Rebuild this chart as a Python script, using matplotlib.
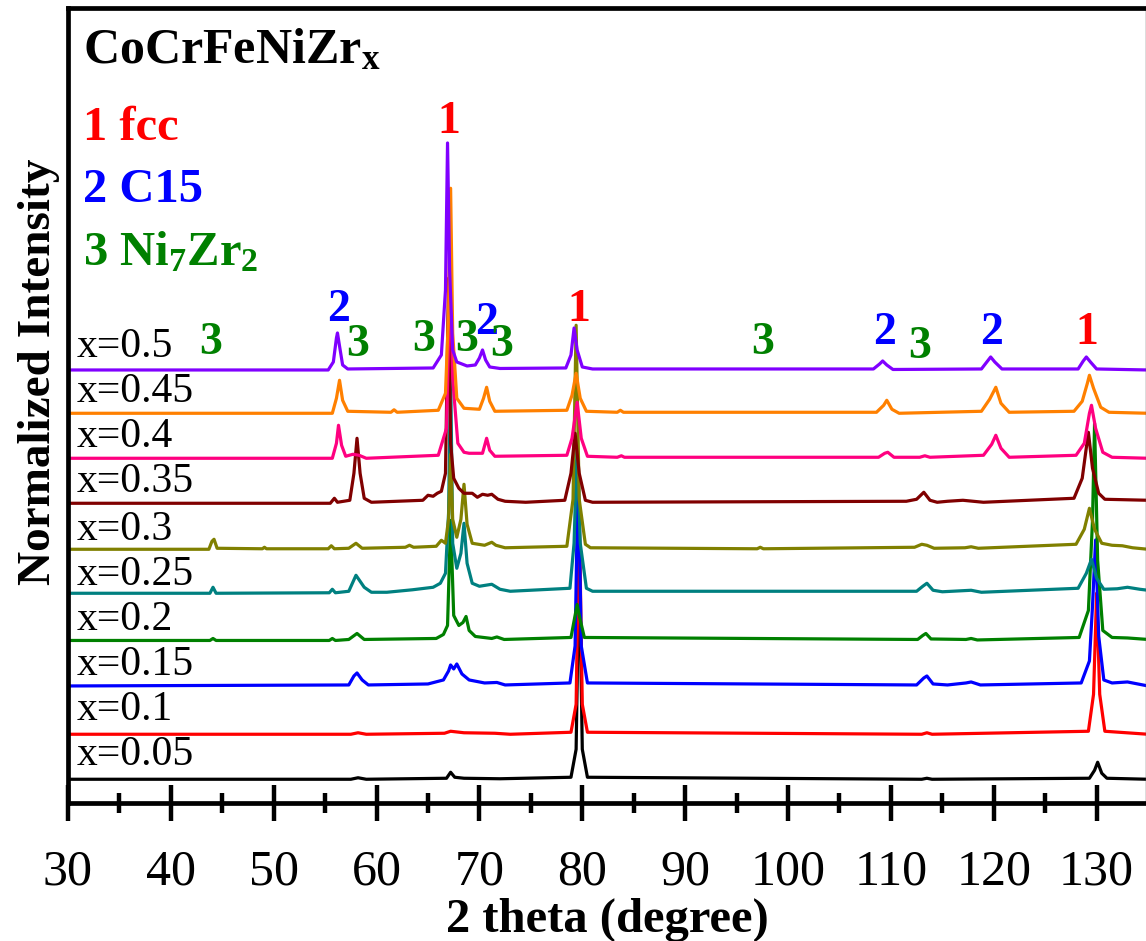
import numpy as np
import matplotlib
matplotlib.use("Agg")
import matplotlib.pyplot as plt
from matplotlib.ticker import MultipleLocator

# ---------- Data (2theta, intensity above baseline) ----------
samples = ["x=0.05", "x=0.1", "x=0.15", "x=0.2", "x=0.25",
           "x=0.3", "x=0.35", "x=0.4", "x=0.45", "x=0.5"]
colors = ["#000000", "#FF0000", "#0000FF", "#008000", "#008080",
          "#808000", "#800000", "#FF0080", "#FF8000", "#8000FF"]
offsets = [2.37, 6.87, 11.70, 16.25, 20.97, 25.37, 29.97, 34.47, 38.97, 43.30]

pat_005 = [(30, 0), (57.5, 0), (58.2, 0.15), (59, 0), (66.8, 0.1), (67.2, 0.7), (67.6, 0.2),
           (68.5, 0.1), (72, 0.05), (78.9, 0.2), (79.4, 3), (79.7, 22.5), (80.0, 3), (80.5, 0.2),
           (113, 0), (113.5, 0.1), (114, 0), (129.3, 0.1), (129.8, 0.9), (130.1, 1.7),
           (130.5, 0.6), (131, 0.1), (135, 0)]
pat_010 = [(30, 0), (57.5, 0), (58.2, 0.15), (59, 0), (66.6, 0.1), (67.2, 0.3), (68.5, 0.15),
           (71.5, 0.1), (73, 0), (78.9, 0.2), (79.4, 3), (79.7, 22.5), (80.0, 3), (80.5, 0.2),
           (113, 0), (113.5, 0.15), (114, 0), (129.2, 0.3), (129.7, 4), (130.0, 14.1),
           (130.3, 4), (130.8, 0.3), (135, 0)]
pat_015 = [(30, 0), (57.3, 0.1), (57.8, 1.0), (58.1, 1.3), (58.6, 0.6), (59.2, 0.1), (65, 0.2),
           (66.5, 0.6), (67.0, 1.5), (67.2, 2.1), (67.5, 1.7), (67.8, 2.2), (68.3, 1.2), (69, 0.6),
           (70.5, 0.3), (71.7, 0.35), (72.5, 0.1), (78.8, 0.3), (79.3, 4), (79.6, 22.5),
           (79.9, 4), (80.5, 0.3), (112.5, 0.1), (113.2, 0.8), (113.5, 1.0), (114.1, 0.2),
           (115.5, 0.1), (117.3, 0.3), (117.8, 0.4), (118.7, 0.1), (128.5, 0.3), (129.3, 2.5),
           (129.6, 8), (129.9, 14.6), (130.2, 5), (130.7, 0.6), (131.5, 0.3), (133, 0.4),
           (134, 0.2), (135, 0)]
pat_020 = [(30, 0), (43.8, 0), (44.1, 0.2), (44.4, 0), (55.4, 0), (55.7, 0.2), (56.0, 0),
           (57.3, 0.1), (58.1, 0.7), (58.8, 0.1), (65.8, 0.2), (66.5, 0.6), (66.9, 1.5),
           (67.2, 12), (67.5, 2.5), (68.0, 1.5), (68.4, 1.8), (68.7, 2.4), (69.0, 1.0),
           (69.6, 0.4), (71.2, 0.2), (71.7, 0.35), (72.4, 0.1), (78.9, 0.3), (79.3, 2.5),
           (79.5, 3.6), (79.7, 2.5), (80.2, 0.3), (112.6, 0.1), (113.1, 0.5), (113.4, 0.7),
           (113.9, 0.15), (117.3, 0.1), (117.8, 0.2), (118.4, 0.05), (128.3, 0.3), (129.2, 3),
           (129.6, 12), (129.8, 21.7), (130.1, 8), (130.6, 1.0), (131.5, 0.3), (133, 0.25),
           (135, 0.1)]
pat_025 = [(30, 0), (43.8, 0), (44.1, 0.6), (44.4, 0), (55.4, 0.05), (55.7, 0.4), (56.0, 0.05),
           (57.3, 0.2), (58.0, 1.8), (58.8, 0.6), (59.5, 0.1), (61, 0.1), (63.5, 0.35),
           (65.5, 0.6), (66.2, 1.0), (66.7, 2.0), (67.0, 8), (67.2, 22.5), (67.4, 5),
           (67.8, 2.5), (68.2, 4), (68.5, 7), (68.8, 3), (69.3, 1.0), (70, 0.7), (71.2, 0.9),
           (72, 0.4), (73, 0.2), (78.8, 0.5), (79.2, 5), (79.5, 15), (79.8, 5), (80.4, 0.5),
           (81, 0.2), (112.5, 0.2), (113.1, 0.7), (113.5, 1.0), (114.1, 0.3), (115, 0.15),
           (117.8, 0.3), (118.8, 0.1), (128.2, 0.5), (129.0, 2), (129.5, 3.4), (130.0, 1.5),
           (130.7, 0.4), (132, 0.45), (133, 0.6), (134.2, 0.4), (135, 0.3)]
pat_030 = [(30, 0), (43.7, 0), (44.0, 0.8), (44.2, 1.0), (44.5, 0.1), (48.9, 0.05),
           (49.1, 0.2), (49.3, 0.05), (55.3, 0.05), (55.6, 0.35), (55.9, 0.05), (57.3, 0.1),
           (58.0, 0.6), (58.6, 0.1), (62.8, 0.2), (63.2, 0.4), (63.6, 0.2), (65.8, 0.3),
           (66.3, 0.9), (66.7, 0.6), (67.0, 3), (67.2, 9.5), (67.4, 3), (67.8, 1.2), (68.2, 3),
           (68.5, 6.5), (68.8, 2.5), (69.3, 0.6), (70.5, 0.4), (71.2, 0.7), (71.6, 0.4),
           (72.5, 0.15), (78.5, 0.3), (79.1, 5), (79.4, 22.4), (79.7, 5), (80.3, 0.5),
           (80.8, 0.15), (97.0, 0.05), (97.3, 0.2), (97.6, 0.05), (112.3, 0.2), (113.0, 0.5),
           (113.5, 0.4), (114.2, 0.1), (117.2, 0.15), (117.8, 0.25), (118.5, 0.1), (128.0, 0.5),
           (128.8, 2), (129.3, 4.1), (129.8, 2), (130.5, 0.6), (131.5, 0.4), (132.5, 0.35),
           (133.5, 0.15), (135, 0)]
pat_035 = [(30, 0), (55.5, 0), (55.9, 0.5), (56.2, 0.1), (57.4, 0.3), (57.8, 3.0), (58.1, 6.5),
           (58.4, 3.0), (58.8, 0.5), (59.5, 0.1), (64.5, 0.3), (65.0, 0.8), (65.5, 0.7),
           (65.9, 1.0), (66.3, 1.2), (66.7, 3), (67.0, 22.5), (67.2, 6), (67.5, 2.5), (68, 1.5),
           (68.5, 1.0), (69.3, 1.0), (69.8, 0.6), (70.3, 0.9), (70.8, 0.8), (71.2, 0.9),
           (71.8, 0.4), (72.5, 0.2), (74.5, 0.1), (78.3, 0.3), (78.9, 3), (79.3, 7), (79.7, 3),
           (80.3, 0.3), (81, 0.1), (111.5, 0.2), (112.5, 0.4), (113.2, 1.1), (113.8, 0.3),
           (114.5, 0.1), (115.5, 0.2), (117, 0.3), (118, 0.2), (119.0, 0.1), (127.8, 0.5),
           (128.6, 2.5), (129.2, 7.1), (129.6, 3.5), (130.2, 1.0), (130.8, 0.4), (135, 0.3)]
pat_040 = [(30, 0), (55.7, 0), (56.1, 1.5), (56.3, 3.3), (56.6, 1.3), (57.0, 0.2), (57.7, 0.4),
           (58.3, 0.3), (59, 0), (66, 0.3), (66.8, 3), (67.0, 12), (67.1, 22.5), (67.4, 8),
           (67.9, 1.5), (68.5, 0.6), (69.0, 0.5), (70.3, 0.5), (70.7, 2.0), (71.0, 0.8),
           (71.5, 0.2), (78.5, 0.3), (79.0, 2.0), (79.5, 5.6), (79.9, 2.0), (80.5, 0.2),
           (83.4, 0.1), (83.8, 0.25), (84.1, 0.1), (108.8, 0.1), (109.4, 0.5), (109.7, 0.6),
           (110.3, 0.1), (112.8, 0.1), (113.3, 0.25), (113.8, 0.1), (119.0, 0.3), (119.8, 1.4),
           (120.2, 2.3), (120.7, 1.0), (121.5, 0.1), (128.0, 0.3), (128.8, 1.5), (129.3, 4.5),
           (129.5, 5.3), (129.9, 3.0), (130.6, 0.6), (131.5, 0.1), (135, 0)]
pat_045 = [(30, 0), (55.7, 0), (56.1, 1.5), (56.4, 3.3), (56.7, 1.3), (57.2, 0.2), (61.4, 0.1),
           (61.7, 0.35), (62.0, 0.1), (66, 0.3), (66.7, 2), (67.0, 10), (67.2, 22.5), (67.4, 8),
           (67.8, 1.5), (68.5, 0.5), (70.0, 0.4), (70.4, 1.5), (70.7, 2.6), (71.0, 1.2),
           (71.5, 0.2), (78.5, 0.3), (79.0, 1.8), (79.4, 4.0), (79.8, 1.5), (80.4, 0.2),
           (83.4, 0.1), (83.7, 0.3), (84.0, 0.1), (108.6, 0.1), (109.3, 0.8), (109.6, 1.3),
           (110.1, 0.4), (110.8, 0.0), (118.8, 0.2), (119.6, 1.4), (120.2, 2.6), (120.7, 1.0),
           (121.5, 0.1), (127.8, 0.2), (128.6, 1.2), (129.1, 3.0), (129.3, 3.8), (129.7, 2.5),
           (130.4, 0.6), (131.2, 0.1), (135, 0)]
pat_050 = [(30, 0), (55.3, 0), (55.8, 0.8), (56.1, 3.2), (56.2, 3.7), (56.4, 2.4), (56.7, 0.5),
           (57.2, 0.1), (65.5, 0.2), (66.3, 1.5), (66.7, 8), (66.9, 22.7), (67.1, 10), (67.4, 2),
           (67.8, 0.8), (68.3, 0.6), (68.8, 0.4), (69.6, 0.5), (70.0, 1.2), (70.3, 2.0),
           (70.6, 1.0), (71.0, 0.3), (72, 0.15), (78.4, 0.2), (78.9, 1.5), (79.2, 4.2),
           (79.5, 2.0), (80.0, 0.3), (81, 0.1), (108.3, 0.1), (108.9, 0.6), (109.2, 0.9),
           (109.6, 0.5), (110.2, 0.05), (118.8, 0.1), (119.4, 0.9), (119.7, 1.3), (120.1, 0.8),
           (120.8, 0.1), (128.2, 0.1), (128.7, 0.9), (129.0, 1.3), (129.4, 0.8), (130.0, 0.1),
           (135, 0)]
patterns = [pat_005, pat_010, pat_015, pat_020, pat_025,
            pat_030, pat_035, pat_040, pat_045, pat_050]

# label y position of each sample name
label_y = [4.8, 9.3, 13.8, 18.3, 22.8, 27.3, 32.1, 36.6, 41.1, 45.6]

# phase marks
mark_x = [43.9, 56.3, 58.2, 64.6, 67.0, 68.75, 70.7, 72.2, 79.7, 97.5, 109.4, 112.8, 119.8, 129.0]
mark_y = [46.0, 49.3, 45.8, 46.3, 68.1, 46.3, 48.0, 45.8, 49.3, 46.0, 47.0, 45.6, 47.0, 47.0]
mark_t = ["3", "2", "3", "3", "1", "3", "2", "3", "1", "3", "2", "3", "2", "1"]
phase_col = {"1": "#FF0000", "2": "#0000FF", "3": "#008000"}

plt.rcParams["font.family"] = "Liberation Serif"
plt.rcParams["mathtext.fontset"] = "custom"
plt.rcParams["mathtext.rm"] = "Liberation Serif"
plt.rcParams["mathtext.bf"] = "Liberation Serif:bold"
plt.rcParams["mathtext.it"] = "Liberation Serif:italic"

fig = plt.figure(figsize=(11.46, 9.41), dpi=100)
ax = fig.add_axes([0.0593, 0.1467, 0.9407, 0.8448])

for pat, off, col in zip(patterns, offsets, colors):
    tt = [p[0] for p in pat]
    ii = [p[1] + off for p in pat]
    ax.plot(tt, ii, color=col, lw=2.3, solid_joinstyle="round")

for name, ly in zip(samples, label_y):
    ax.text(30.8, ly, name, fontsize=30, ha="left", va="center")

for mx, my, mt in zip(mark_x, mark_y, mark_t):
    ax.text(mx, my, mt, fontsize=33, fontweight="bold", color=phase_col[mt],
            ha="center", va="center")

ax.text(31.5, 74.0, r"CoCrFeNiZr$_\mathbf{x}$", fontsize=36, fontweight="bold", va="baseline")
ax.text(31.5, 66.3, "1 fcc", fontsize=35, fontweight="bold", color="#FF0000", va="baseline")
ax.text(31.5, 60.1, "2 C15", fontsize=35, fontweight="bold", color="#0000FF", va="baseline")
ax.text(31.5, 53.8, r"3 Ni$_\mathbf{7}$Zr$_\mathbf{2}$", fontsize=35, fontweight="bold",
        color="#008000", va="baseline")

ax.set_xlim(30, 134.8)
ax.set_ylim(0, 79.5)
ax.xaxis.set_major_locator(MultipleLocator(10))
ax.xaxis.set_minor_locator(MultipleLocator(5))
ax.tick_params(axis="x", which="major", direction="inout", length=26, width=3.2,
               labelsize=36, pad=20)
ax.tick_params(axis="x", which="minor", direction="inout", length=14, width=3.2)
ax.set_yticks([])
for s in ["left", "bottom", "top"]:
    ax.spines[s].set_linewidth(3.4)
ax.spines["right"].set_linewidth(1.0)
ax.spines["right"].set_color("#555555")

ax.set_xlabel("2 theta (degree)", fontsize=35, fontweight="bold", labelpad=2)
fig.text(0.034, 1 - 372 / 941, "Normalized Intensity", fontsize=34, fontweight="bold",
         rotation=90, ha="center", va="center")

fig.savefig("out.png", dpi=100)
